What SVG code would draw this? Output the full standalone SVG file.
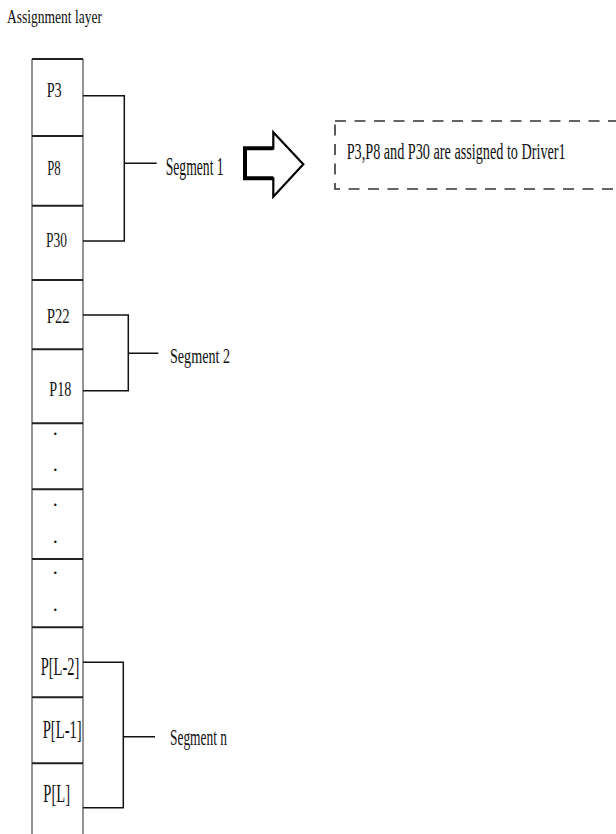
<svg xmlns="http://www.w3.org/2000/svg" width="616" height="834" viewBox="0 0 616 834">
<style>
text{font-family:"Liberation Serif","Times New Roman",serif;fill:#111}
.lbl{font-size:22px}
.big{font-size:26px}
.dot{font-size:20px;text-anchor:middle}
.col{stroke:#7a7a7a;stroke-width:1.6;fill:none}
.div{stroke:#222;stroke-width:2;fill:none}
.br{stroke:#111;stroke-width:1.5;fill:none}
</style>
<rect width="616" height="834" fill="#fff"/>
<text x="7" y="23" style="font-size:19px" textLength="95" lengthAdjust="spacingAndGlyphs">Assignment layer</text>
<g id="column">
<path class="col" d="M32 59V834M83 59V834"/>
<path class="div" d="M32 59H83M32 136H83M32 205.7H83M32 280H83M32 349.3H83M32 423.3H83M32 489.3H83M32 559H83M32 627.3H83M32 697.3H83M32 763.3H83"/>
</g>
<g id="p3"><text class="lbl" x="46.7" y="96.5" textLength="15" lengthAdjust="spacingAndGlyphs">P3</text></g>
<g id="p8"><text class="lbl" x="47.3" y="175" textLength="13.4" lengthAdjust="spacingAndGlyphs">P8</text></g>
<g id="p30"><text class="lbl" x="46" y="247" textLength="21" lengthAdjust="spacingAndGlyphs">P30</text></g>
<g id="p22"><text class="lbl" x="46.7" y="323" textLength="23" lengthAdjust="spacingAndGlyphs">P22</text></g>
<g id="p18"><text class="lbl" x="49.3" y="396" textLength="22" lengthAdjust="spacingAndGlyphs">P18</text></g>
<g id="dots1"><text class="dot" x="55.3" y="434.5">.</text><text class="dot" x="55.3" y="471">.</text></g>
<g id="dots2"><text class="dot" x="55.3" y="505.8">.</text><text class="dot" x="55.3" y="542.8">.</text></g>
<g id="dots3"><text class="dot" x="55.3" y="574">.</text><text class="dot" x="55.3" y="610.8">.</text></g>
<g id="pL2"><text class="big" x="40.7" y="675" textLength="38.6" lengthAdjust="spacingAndGlyphs">P[L-2]</text></g>
<g id="pL1"><text class="big" x="42.7" y="738" textLength="39" lengthAdjust="spacingAndGlyphs">P[L-1]</text></g>
<g id="pL"><text class="big" x="43.3" y="802" textLength="26.7" lengthAdjust="spacingAndGlyphs">P[L]</text></g>
<g id="connectors">
<path class="br" d="M83 95.7H124.3V241H83M124.3 163.3H156.7"/>
<path class="br" d="M83 315H128.3V390.7H83M128.3 353.3H158.3"/>
<path class="br" d="M83 662.3H123.3V807.7H83M123.3 736.7H155"/>
</g>
<g id="segment1"><text x="165.7" y="175" style="font-size:25px" textLength="58" lengthAdjust="spacingAndGlyphs">Segment 1</text></g>
<g id="segment2"><text x="170" y="363" style="font-size:22px" textLength="60" lengthAdjust="spacingAndGlyphs">Segment 2</text></g>
<g id="segmentn"><text x="170" y="745" style="font-size:24px" textLength="57" lengthAdjust="spacingAndGlyphs">Segment n</text></g>
<g id="arrow">
<polygon points="245,148.3 273.3,148.3 273.3,132.3 303.3,164.3 273.3,196.7 273.3,178.3 245,178.3" fill="#fff" stroke="#000" stroke-width="2.2" stroke-linejoin="miter"/>
<path d="M273.3 148.3H245V178.3H273.3" fill="none" stroke="#000" stroke-width="4"/>
</g>
<g id="note">
<rect x="335" y="121" width="300" height="68" fill="none" stroke="#333" stroke-width="1.6" stroke-dasharray="11 8.5"/>
<text x="346.7" y="158.5" style="font-size:23px" textLength="219" lengthAdjust="spacingAndGlyphs">P3,P8 and P30 are assigned to Driver1</text>
</g>
</svg>
